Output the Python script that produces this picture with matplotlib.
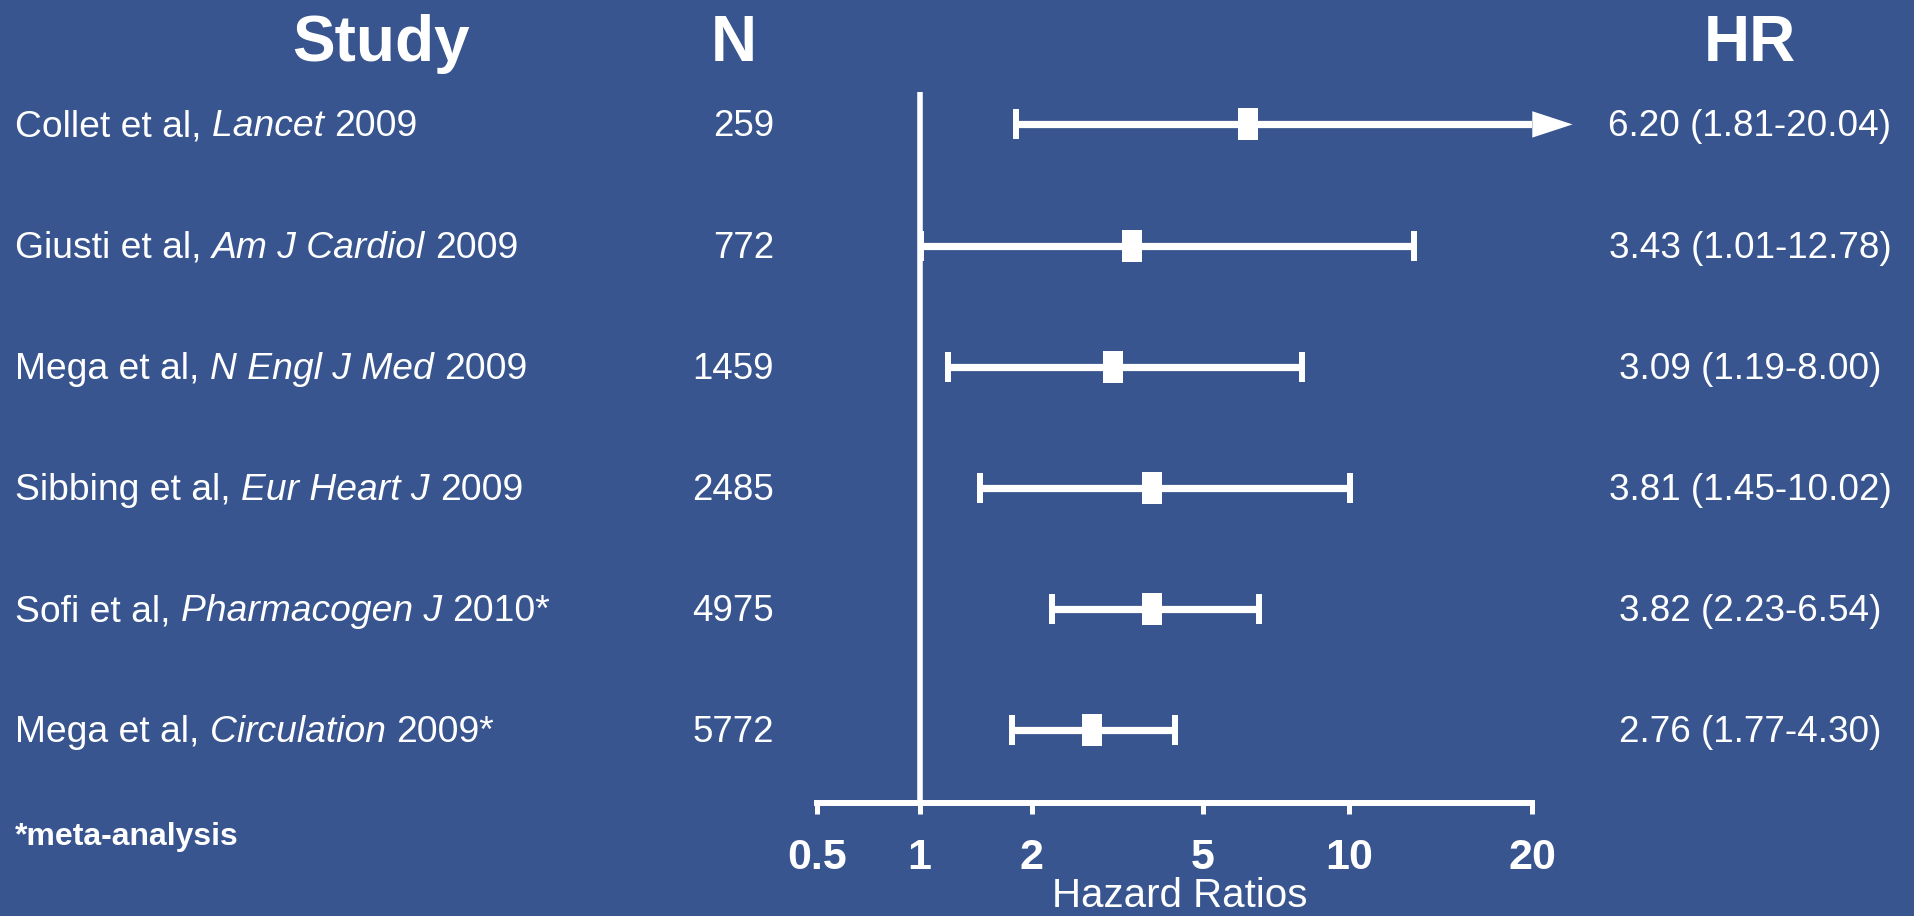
import matplotlib
matplotlib.use("Agg")
import matplotlib.pyplot as plt
import matplotlib.transforms as mtransforms
from matplotlib import font_manager
from matplotlib.path import Path
import numpy as np

# study rows, top to bottom
authors = ["Collet et al,", "Giusti et al,", "Mega et al,", "Sibbing et al,", "Sofi et al,", "Mega et al,"]
journals = ["Lancet", "Am J Cardiol", "N Engl J Med", "Eur Heart J", "Pharmacogen J", "Circulation"]
years = ["2009", "2009", "2009", "2009", "2010*", "2009*"]
n_patients = [259, 772, 1459, 2485, 4975, 5772]
hr = [6.20, 3.43, 3.09, 3.81, 3.82, 2.76]
ci_low = [1.81, 1.01, 1.19, 1.45, 2.23, 1.77]
ci_high = [20.04, 12.78, 8.00, 10.02, 6.54, 4.30]
tick_values = [0.5, 1, 2, 5, 10, 20]
tick_labels = ["0.5", "1", "2", "5", "10", "20"]

BG = "#38558f"
FG = "white"
W, H = 1914, 916
DPI = 100

names = {f.name for f in font_manager.fontManager.ttflist}
SANS = "Liberation Sans"
NARROW = "Liberation Sans Narrow" if "Liberation Sans Narrow" in names else SANS

# the printed axis is not evenly logarithmic: spacing (px) of each tick from 0.5
axis_stops = [0, 102.5, 214.8, 385.7, 532.2, 715.3]
log_ticks = np.log10(tick_values)


def forward(x):
    x = np.clip(np.asarray(x, dtype=float), 1e-6, None)
    return np.interp(np.log10(x), log_ticks, axis_stops)


def inverse(p):
    return 10 ** np.interp(p, axis_stops, log_ticks)


fig = plt.figure(figsize=(W / DPI, H / DPI), dpi=DPI, facecolor=BG)
ax = fig.add_axes([817 / W, 1 - 803 / H, 715.3 / W, (803 - 91.7) / H])
ax.set_facecolor(BG)
ax.set_xscale("function", functions=(forward, inverse))
x_min, x_max = tick_values[0], tick_values[-1]
ax.set_xlim(x_min, x_max)
rows = np.arange(len(hr))
ax.set_ylim(len(hr) - 0.4, -0.27)

for side in ["left", "right", "top"]:
    ax.spines[side].set_visible(False)
ax.spines["bottom"].set_color(FG)
ax.spines["bottom"].set_linewidth(4.3)
ax.set_yticks([])
ax.set_xticks(tick_values)
ax.set_xticklabels(tick_labels)
ax.xaxis.set_minor_locator(matplotlib.ticker.NullLocator())
ax.tick_params(axis="x", colors=FG, direction="out", length=8, width=3.6, pad=17)
for lab in ax.get_xticklabels():
    lab.set_fontfamily(NARROW)
    lab.set_fontweight("bold")
    lab.set_fontsize(31)

# line of no effect
ax.axvline(1, ymin=0, ymax=1, color=FG, lw=4, solid_capstyle="butt")

# confidence intervals
lo = np.array(ci_low)
hi = np.array(ci_high)
hi_draw = np.minimum(hi, x_max)
ax.hlines(rows, lo, hi_draw, color=FG, lw=5.2)
ax.plot(lo, rows, ls="none", marker="|", ms=22, mew=4.3, color=FG)
inside = hi <= x_max
ax.plot(hi[inside], rows[inside], ls="none", marker="|", ms=22, mew=4.3, color=FG)

# arrows where the interval runs off the scale
tip = mtransforms.offset_copy(ax.transData, fig=fig, x=29, y=0, units="points")
for r in rows[~inside]:
    ax.annotate("", xy=(x_max, r), xycoords=tip, xytext=(x_max, r), textcoords="data",
                annotation_clip=False,
                arrowprops=dict(arrowstyle="-|>,head_length=29,head_width=9.5",
                                mutation_scale=1, lw=0, color=FG, shrinkA=0, shrinkB=0))

# point estimates as upright boxes
box = Path([(-0.32, -0.5), (0.32, -0.5), (0.32, 0.5), (-0.32, 0.5), (-0.32, -0.5)],
           [Path.MOVETO, Path.LINETO, Path.LINETO, Path.LINETO, Path.CLOSEPOLY])
ax.plot(hr, rows, ls="none", marker=box, ms=22.5, mew=0, color=FG)

# text columns: figure x, data y, baseline a little below the row centre
row_tf = mtransforms.blended_transform_factory(fig.transFigure, ax.transData)
row_tf = mtransforms.offset_copy(row_tf, fig=fig, x=0, y=-8.6, units="points")
for r in rows:
    t1 = fig.text(15 / W, r, authors[r] + " ", transform=row_tf, fontsize=26.8,
                  family=SANS, color=FG, ha="left", va="baseline")
    t2 = ax.annotate(journals[r] + " ", xy=(1, 0), xycoords=t1, fontsize=26.8, family=SANS,
                     style="italic", color=FG, ha="left", va="bottom")
    ax.annotate(years[r], xy=(1, 0), xycoords=t2, fontsize=26.8, family=SANS,
                color=FG, ha="left", va="bottom")
    fig.text(774 / W, r, str(n_patients[r]), transform=row_tf, fontsize=26.4,
             family=SANS, color=FG, ha="right", va="baseline")
    fig.text(1750 / W, r, f"{hr[r]:.2f} ({ci_low[r]:.2f}-{ci_high[r]:.2f})",
             transform=row_tf, fontsize=26.6, family=SANS, color=FG,
             ha="center", va="baseline")

# column headers
head_y = 1 - 61 / H
for label, xc in [("Study", 381), ("N", 734), ("HR", 1750)]:
    fig.text(xc / W, head_y, label, fontsize=46, family=SANS, weight="bold",
             color=FG, ha="center", va="baseline")

fig.text(15 / W, 1 - 845 / H, "*meta-analysis", fontsize=23, family=SANS,
         weight="bold", color=FG, ha="left", va="baseline")
fig.text(1180 / W, 0.0095, "Hazard Ratios", fontsize=29, family=NARROW,
         color=FG, ha="center", va="baseline")

fig.savefig("out.png", dpi=DPI, facecolor=BG)
